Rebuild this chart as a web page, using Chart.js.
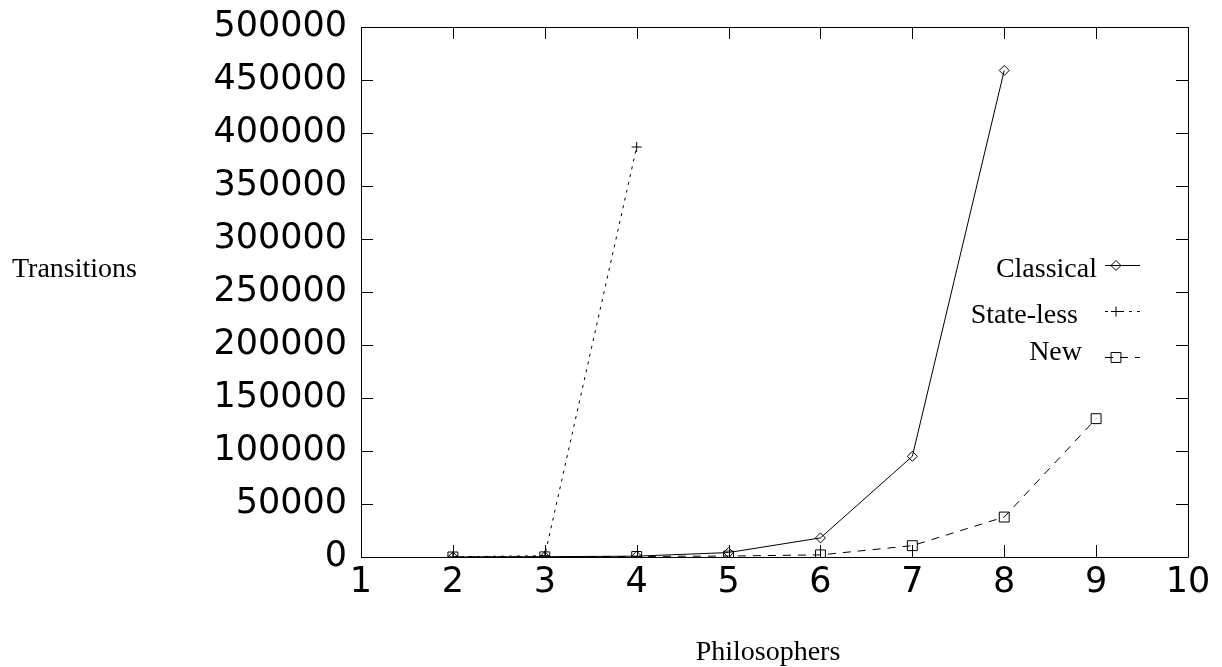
<!DOCTYPE html>
<html>
<head>
<meta charset="utf-8">
<script src="https://cdn.jsdelivr.net/npm/chart.js@4/dist/chart.umd.min.js"></script>
<style>
  html, body { margin: 0; padding: 0; background: #fff; }
  #c { display: block; }
</style>
</head>
<body>
<canvas id="c" width="1222" height="667"></canvas>
<script>
// ---- data ----
const philosophers = [2, 3, 4, 5, 6, 7, 8, 9];
const classical = [50, 300, 800, 4200, 18000, 95000, 459000, null];
const stateless = [150, 1200, 386800, null, null, null, null, null];
const newAlgo   = [30, 150, 500, 900, 2000, 10700, 37700, 130500];
const seriesNames = ['Classical', 'State-less', 'New'];
const xTickMin = 1, xTickMax = 10, xStep = 1;
const yTickMin = 0, yTickMax = 500000, yStep = 50000;
const xTitle = 'Philosophers';
const yTitle = 'Transitions';

function toPoints(arr) {
  return philosophers.map((x, i) => ({ x: x, y: arr[i] })).filter(p => p.y !== null);
}

const styles = [
  { dash: [], marker: 'diamond', pointStyle: 'rectRot', radius: 5 },
  { dash: [3, 5], marker: 'plus', pointStyle: 'cross', radius: 5 },
  { dash: [8, 7], marker: 'square', pointStyle: 'rect', radius: 7 }
];

const seriesData = [classical, stateless, newAlgo];

const datasets = seriesData.map((arr, i) => ({
  label: seriesNames[i],
  data: toPoints(arr),
  borderColor: '#000',
  borderWidth: 1,
  borderDash: styles[i].dash,
  pointStyle: styles[i].pointStyle,
  pointRadius: styles[i].radius,
  pointBorderWidth: 1,
  pointBorderColor: '#000',
  pointBackgroundColor: 'rgba(0,0,0,0)',
  fill: false,
  tension: 0
}));

function drawMarker(ctx, type, x, y, r) {
  ctx.save();
  ctx.setLineDash([]);
  ctx.lineWidth = 1;
  ctx.strokeStyle = '#000';
  ctx.beginPath();
  if (type === 'diamond') {
    ctx.moveTo(x, y - r); ctx.lineTo(x + r, y); ctx.lineTo(x, y + r); ctx.lineTo(x - r, y); ctx.closePath();
  } else if (type === 'plus') {
    ctx.moveTo(x - r, y); ctx.lineTo(x + r, y); ctx.moveTo(x, y - r); ctx.lineTo(x, y + r);
  } else {
    const s = r * Math.SQRT1_2;
    ctx.rect(x - s, y - s, 2 * s, 2 * s);
  }
  ctx.stroke();
  ctx.restore();
}

const framePlugin = {
  id: 'frame',
  afterDatasetsDraw(chart) {
    const ctx = chart.ctx;
    const a = chart.chartArea;
    const xs = chart.scales.x, ys = chart.scales.y;
    const tl = 12;
    ctx.save();
    ctx.strokeStyle = '#000';
    ctx.lineWidth = 1;
    ctx.setLineDash([]);
    ctx.beginPath();
    ctx.rect(Math.round(a.left) + 0.5, Math.round(a.top) + 0.5,
             Math.round(a.right) - Math.round(a.left), Math.round(a.bottom) - Math.round(a.top));
    ctx.stroke();
    ctx.beginPath();
    xs.ticks.forEach(t => {
      const px = Math.round(xs.getPixelForValue(t.value)) + 0.5;
      ctx.moveTo(px, a.bottom); ctx.lineTo(px, a.bottom - tl);
      ctx.moveTo(px, a.top); ctx.lineTo(px, a.top + tl);
    });
    ys.ticks.forEach(t => {
      const py = Math.round(ys.getPixelForValue(t.value)) + 0.5;
      ctx.moveTo(a.left, py); ctx.lineTo(a.left + tl, py);
      ctx.moveTo(a.right, py); ctx.lineTo(a.right - tl, py);
    });
    ctx.stroke();

    // axis titles
    ctx.fillStyle = '#000';
    ctx.font = '28px "Liberation Serif", "Times New Roman", serif';
    ctx.textBaseline = 'alphabetic';
    ctx.textAlign = 'left';
    ctx.fillText(yTitle, 12, 277);
    ctx.textAlign = 'center';
    ctx.fillText(xTitle, 768, 660);

    // legend
    const textRight = [1097, 1078, 1082];
    const textBase = [277, 323, 360];
    const lineY = [265, 311, 357];
    chart.data.datasets.forEach((ds, i) => {
      ctx.textAlign = 'right';
      ctx.fillText(ds.label, textRight[i], textBase[i]);
      ctx.save();
      ctx.beginPath();
      ctx.setLineDash(styles[i].dash);
      ctx.moveTo(1105, lineY[i] + 0.5);
      ctx.lineTo(1140, lineY[i] + 0.5);
      ctx.stroke();
      ctx.restore();
      drawMarker(ctx, styles[i].marker, 1116, lineY[i] + 0.5, styles[i].radius);
    });
    ctx.restore();
  }
};

new Chart(document.getElementById('c'), {
  type: 'line',
  data: { datasets: datasets },
  options: {
    responsive: false,
    animation: false,
    devicePixelRatio: 1,
    layout: { padding: { left: 0, right: 34, top: 27, bottom: 0 } },
    plugins: { legend: { display: false }, tooltip: { enabled: false } },
    scales: {
      x: {
        type: 'linear',
        min: xTickMin, max: xTickMax,
        afterFit(s) { s.height = 110; s.paddingLeft = 0; s.paddingRight = 0; },
        grid: { display: false, drawTicks: false },
        border: { display: false },
        ticks: {
          stepSize: xStep,
          color: '#000',
          padding: 5,
          maxRotation: 0,
          font: { family: '"DejaVu Sans", sans-serif', size: 35 }
        }
      },
      y: {
        type: 'linear',
        min: yTickMin, max: yTickMax,
        afterFit(s) { s.width = 361; s.paddingTop = 0; s.paddingBottom = 0; },
        grid: { display: false, drawTicks: false },
        border: { display: false },
        ticks: {
          stepSize: yStep,
          color: '#000',
          padding: 14,
          font: { family: '"DejaVu Sans", sans-serif', size: 35 },
          callback: v => String(v)
        }
      }
    }
  },
  plugins: [framePlugin]
});
</script>
</body>
</html>
